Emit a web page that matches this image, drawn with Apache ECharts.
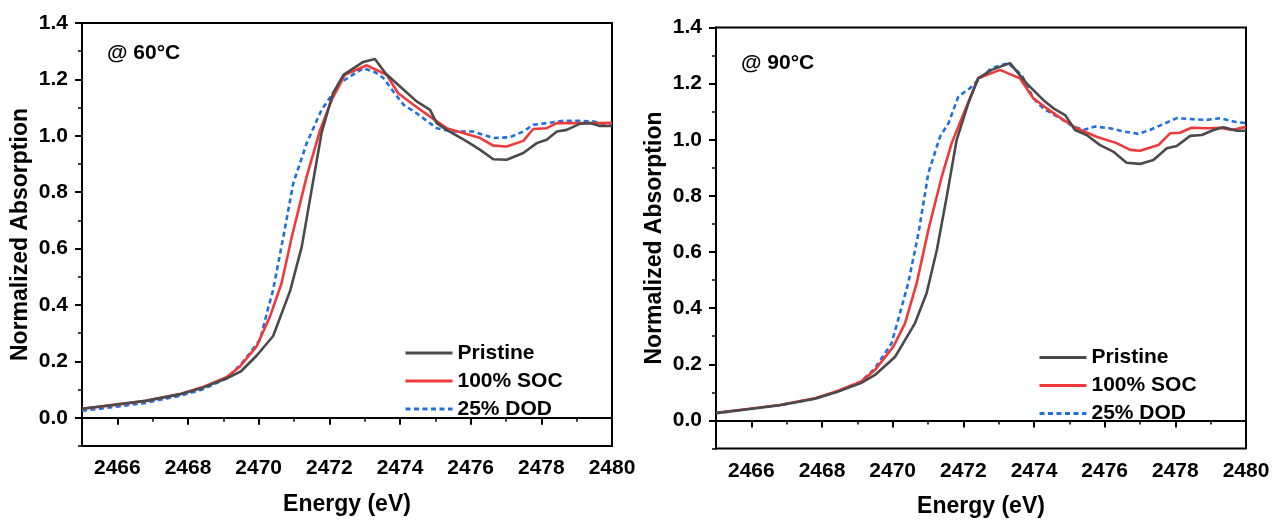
<!DOCTYPE html>
<html>
<head>
<meta charset="utf-8">
<title>Normalized Absorption</title>
<script src="https://cdn.jsdelivr.net/npm/echarts@6/dist/echarts.min.js"></script>
<style>
  html, body { margin: 0; padding: 0; background: #fff; }
  #chart { width: 1276px; height: 525px; }
</style>
</head>
<body>
<div id="chart"></div>
<script>
// series names and tick labels
const seriesNames = ['Pristine', '100% SOC', '25% DOD'];
const panelLabels = ['@ 60°C', '@ 90°C'];
const xMajorTicks = [2466, 2468, 2470, 2472, 2474, 2476, 2478, 2480];
const yMajorTicks = [0, 0.2, 0.4, 0.6, 0.8, 1.0, 1.2, 1.4];

// @ 60°C — [energy eV, normalized absorption]
const pristine60 = [[2465,0.032],[2465.9,0.046],[2466.8,0.060],[2467.8,0.084],[2468.4,0.106],[2469.1,0.140],[2469.5,0.165],[2469.94,0.220],[2470.41,0.290],[2470.89,0.450],[2471.22,0.607],[2471.45,0.773],[2471.78,1.010],[2472.1,1.150],[2472.4,1.216],[2472.96,1.262],[2473.29,1.272],[2473.6,1.220],[2474.0,1.175],[2474.47,1.122],[2474.85,1.092],[2475.04,1.045],[2475.32,1.021],[2475.89,0.980],[2476.27,0.950],[2476.64,0.917],[2477.02,0.915],[2477.49,0.939],[2477.87,0.974],[2478.15,0.986],[2478.44,1.015],[2478.72,1.021],[2479.1,1.043],[2479.38,1.045],[2479.66,1.035],[2480,1.035]];
const soc60 = [[2465,0.032],[2465.9,0.045],[2466.8,0.060],[2467.8,0.085],[2468.4,0.108],[2469.1,0.145],[2469.47,0.182],[2469.94,0.253],[2470.32,0.359],[2470.65,0.478],[2470.94,0.643],[2471.36,0.856],[2471.74,1.021],[2472.07,1.128],[2472.44,1.216],[2473.06,1.250],[2473.43,1.228],[2473.62,1.216],[2473.95,1.151],[2474.38,1.110],[2474.85,1.068],[2475.32,1.027],[2475.79,1.010],[2476.27,0.992],[2476.64,0.965],[2477.02,0.962],[2477.49,0.982],[2477.77,1.024],[2478.15,1.027],[2478.44,1.045],[2478.91,1.045],[2479.29,1.045],[2479.66,1.045],[2480,1.046]];
const dod60 = [[2465,0.025],[2465.9,0.038],[2466.8,0.053],[2467.8,0.079],[2468.4,0.100],[2469.1,0.140],[2469.5,0.190],[2469.75,0.229],[2470.04,0.277],[2470.25,0.380],[2470.41,0.454],[2470.70,0.643],[2470.98,0.832],[2471.36,0.974],[2471.78,1.092],[2472.30,1.187],[2472.96,1.240],[2473.3,1.225],[2473.53,1.205],[2473.81,1.157],[2474.10,1.110],[2474.47,1.080],[2475.04,1.027],[2475.51,1.015],[2476.08,1.015],[2476.64,0.992],[2477.11,0.995],[2477.49,1.015],[2477.77,1.039],[2478.15,1.045],[2478.62,1.053],[2479.10,1.053],[2479.47,1.051],[2480,1.035]];

// @ 90°C
const pristine90 = [[2465,0.026],[2465.9,0.040],[2466.8,0.054],[2467.8,0.077],[2468.4,0.100],[2469.1,0.133],[2469.5,0.162],[2470.07,0.227],[2470.63,0.346],[2470.96,0.453],[2471.25,0.607],[2471.53,0.797],[2471.81,0.999],[2472.14,1.130],[2472.42,1.219],[2472.8,1.249],[2473.32,1.273],[2473.79,1.201],[2474.26,1.142],[2474.55,1.112],[2474.88,1.088],[2475.16,1.035],[2475.49,1.017],[2475.87,0.981],[2476.24,0.958],[2476.62,0.918],[2477.0,0.914],[2477.38,0.928],[2477.76,0.970],[2478.04,0.978],[2478.42,1.014],[2478.75,1.017],[2479.08,1.035],[2479.36,1.045],[2479.74,1.032],[2480,1.032]];
const soc90 = [[2465,0.027],[2465.9,0.041],[2466.8,0.055],[2467.8,0.079],[2468.4,0.103],[2469.1,0.138],[2469.5,0.180],[2470.02,0.263],[2470.35,0.346],[2470.68,0.489],[2471.01,0.679],[2471.39,0.869],[2471.67,0.988],[2472.05,1.106],[2472.42,1.219],[2473.04,1.249],[2473.32,1.234],[2473.6,1.219],[2473.98,1.148],[2474.36,1.112],[2474.83,1.071],[2475.21,1.041],[2475.77,1.011],[2476.34,0.988],[2476.72,0.964],[2477.0,0.961],[2477.52,0.981],[2477.85,1.023],[2478.13,1.025],[2478.46,1.043],[2478.89,1.041],[2479.27,1.043],[2479.6,1.035],[2480,1.046]];
const dod90 = [[2465,0.026],[2465.9,0.040],[2466.8,0.054],[2467.8,0.078],[2468.4,0.102],[2469.1,0.138],[2469.5,0.186],[2469.97,0.275],[2470.44,0.489],[2470.73,0.667],[2471.01,0.881],[2471.34,1.011],[2471.58,1.059],[2471.86,1.154],[2472.19,1.184],[2472.52,1.225],[2472.8,1.255],[2473.27,1.273],[2473.65,1.231],[2473.98,1.148],[2474.26,1.112],[2474.73,1.077],[2475.11,1.047],[2475.4,1.035],[2475.73,1.047],[2476.15,1.041],[2476.57,1.029],[2476.95,1.021],[2477.28,1.035],[2477.66,1.056],[2478.04,1.077],[2478.5,1.073],[2478.89,1.071],[2479.27,1.077],[2479.64,1.065],[2480,1.059]];

const panelData = [[pristine60, soc60, dod60], [pristine90, soc90, dod90]];

const FONT = '"Liberation Sans", Arial, sans-serif';
const colors = ['#4a4a4a', '#f03a3a', '#1f6fe0'];
const lineTypes = ['solid', 'solid', [5, 3.5]];
const grids = [
  { left: 82, top: 23, width: 530, height: 423, labelTop: 20 },
  { left: 716, top: 27.5, width: 530, height: 421, labelTop: 25 },
];

const chart = echarts.init(document.getElementById('chart'));

const xAxes = [];
const yAxes = [];
const series = [];
const legends = [];
const graphics = [];

grids.forEach((g, i) => {
  // major x axis with labels
  xAxes.push({
    gridIndex: i, type: 'value', min: 2465, max: 2480, interval: 1,
    name: 'Energy (eV)', nameLocation: 'middle', nameGap: 47,
    nameTextStyle: { fontFamily: FONT, fontWeight: 'bold', fontSize: 23, color: '#000' },
    axisLine: { show: true, lineStyle: { color: '#000', width: 2 } },
    axisTick: { show: true, length: 7, lineStyle: { color: '#000', width: 2 }, customValues: xMajorTicks },
    axisLabel: {
      fontFamily: FONT, fontWeight: 'bold', fontSize: 21, color: '#000', margin: 12,
      customValues: xMajorTicks, formatter: v => String(v),
    },
    splitLine: { show: false },
  });
  // minor x ticks
  xAxes.push({
    gridIndex: i, type: 'value', min: 2465, max: 2480, interval: 1, position: 'bottom',
    axisLine: { show: false },
    axisTick: { show: true, length: 4, lineStyle: { color: '#000', width: 1.5 } },
    axisLabel: { show: false },
    splitLine: { show: false },
  });
  yAxes.push({
    gridIndex: i, type: 'value', min: -0.1, max: 1.4, interval: 0.1,
    name: 'Normalized Absorption', nameLocation: 'middle', nameGap: 50,
    nameTextStyle: { fontFamily: FONT, fontWeight: 'bold', fontSize: 23, color: '#000' },
    axisLine: { show: true, lineStyle: { color: '#000', width: 2 } },
    axisTick: { show: true, length: 7, lineStyle: { color: '#000', width: 2 }, customValues: yMajorTicks },
    axisLabel: {
      fontFamily: FONT, fontWeight: 'bold', fontSize: 21, color: '#000', margin: 14,
      customValues: yMajorTicks, formatter: v => v.toFixed(1),
    },
    splitLine: { show: false },
  });
  yAxes.push({
    gridIndex: i, type: 'value', min: -0.1, max: 1.4, interval: 0.1, position: 'left',
    axisLine: { show: false },
    axisTick: { show: true, length: 4, lineStyle: { color: '#000', width: 1.5 } },
    axisLabel: { show: false },
    splitLine: { show: false },
  });

  panelData[i].forEach((d, k) => {
    series.push({
      name: seriesNames[k], type: 'line', data: d,
      xAxisIndex: i * 2, yAxisIndex: i * 2,
      symbol: 'none', smooth: false,
      lineStyle: { color: colors[k], width: 2.6, type: lineTypes[k] },
      itemStyle: { color: colors[k] },
      z: 3 - k,
    });
  });

  legends.push({
    orient: 'vertical',
    left: g.left + 317,
    top: g.top + 314,
    itemWidth: 47, itemHeight: 14, itemGap: 6,
    data: seriesNames,
    itemStyle: { opacity: 0 },
    lineStyle: { width: 3 },
    textStyle: { fontFamily: FONT, fontWeight: 'bold', fontSize: 21, color: '#000', lineHeight: 22 },
    selectedMode: false,
  });

  graphics.push({
    type: 'text', left: g.left + 25, top: g.top + g.labelTop,
    style: { text: panelLabels[i], font: 'bold 21px ' + FONT, fill: '#000' },
  });
});

chart.setOption({
  animation: false,
  backgroundColor: '#fff',
  grid: grids.map(g => ({
    show: true, borderColor: '#000', borderWidth: 2, backgroundColor: 'transparent',
    left: g.left, top: g.top, width: g.width, height: g.height,
  })),
  xAxis: xAxes,
  yAxis: yAxes,
  series: series,
  legend: legends,
  graphic: graphics,
});

window.addEventListener('resize', () => chart.resize());
</script>
</body>
</html>
